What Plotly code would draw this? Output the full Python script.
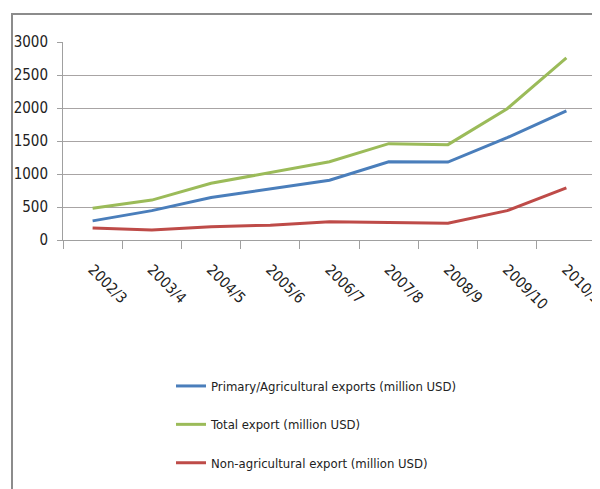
import plotly.graph_objects as go

years = ["2002/3", "2003/4", "2004/5", "2005/6", "2006/7", "2007/8", "2008/9", "2009/10", "2010/11"]
primary = [290, 445, 645, 780, 905, 1185, 1180, 1550, 1955]
total = [480, 605, 860, 1020, 1185, 1460, 1445, 1990, 2760]
non_agri = [180, 150, 200, 225, 275, 265, 255, 445, 790]
y_ticks = [0, 500, 1000, 1500, 2000, 2500, 3000]

W, H = 600, 489
OFF = 8  # page body margin offset
L, R, T, B = 63 - OFF, 596 - OFF, 42 - OFF, 240 - OFF
FONT = "DejaVu Sans Condensed, DejaVu Sans, sans-serif"

fig = go.Figure()
series = [
    ("Primary/Agricultural exports (million USD)", primary, "#4A7EBB"),
    ("Total export (million USD)", total, "#9BBB59"),
    ("Non-agricultural export (million USD)", non_agri, "#BE4B48"),
]
for i, (name, vals, col) in enumerate(series):
    fig.add_trace(go.Scatter(x=years, y=vals, mode="lines", name=name,
                             line=dict(color=col, width=3), legendgroup=f"g{i}"))

fig.update_layout(
    width=W, height=H,
    margin=dict(l=L, r=W - R, t=T, b=H - B, pad=0, autoexpand=False),
    paper_bgcolor="white", plot_bgcolor="white",
    font=dict(family=FONT, size=14, color="#222222"),
    showlegend=True,
    legend=dict(xref="container", yref="container", x=(171 - OFF) / W, y=1 - (371 - OFF) / H,
                xanchor="left", yanchor="top", tracegroupgap=18.5,
                itemwidth=30, font=dict(size=13, color="#222222"),
                bgcolor="rgba(0,0,0,0)"),
    xaxis=dict(type="category", showgrid=False, showline=True, linecolor="#A0A0A0",
               linewidth=1, ticks="outside", ticklen=8, tickcolor="#A0A0A0",
               tickson="boundaries", tickangle=45, tickfont=dict(size=15),
               ticklabelstandoff=14, automargin=False, range=[-0.5, 8.5]),
    yaxis=dict(range=[0, 3000], tickvals=y_ticks, showgrid=True, gridcolor="#A8A4A4",
               gridwidth=1, showline=True, linecolor="#A0A0A0", ticks="outside",
               ticklen=5, tickcolor="#A0A0A0", zeroline=False, tickfont=dict(size=15),
               ticklabelstandoff=6, automargin=False),
)

# outer chart frame (top and left edges visible)
x0 = (12 - OFF - L) / (R - L)
x1 = (620 - L) / (R - L)
y0 = (B - 520) / (B - T)
y1 = (B - (14 - OFF)) / (B - T)
fig.add_shape(type="rect", xref="paper", yref="paper", x0=x0, x1=x1, y0=y0, y1=y1,
              line=dict(color="#8C8C8C", width=2), fillcolor="rgba(0,0,0,0)", layer="below")

fig.write_html("out.html")
